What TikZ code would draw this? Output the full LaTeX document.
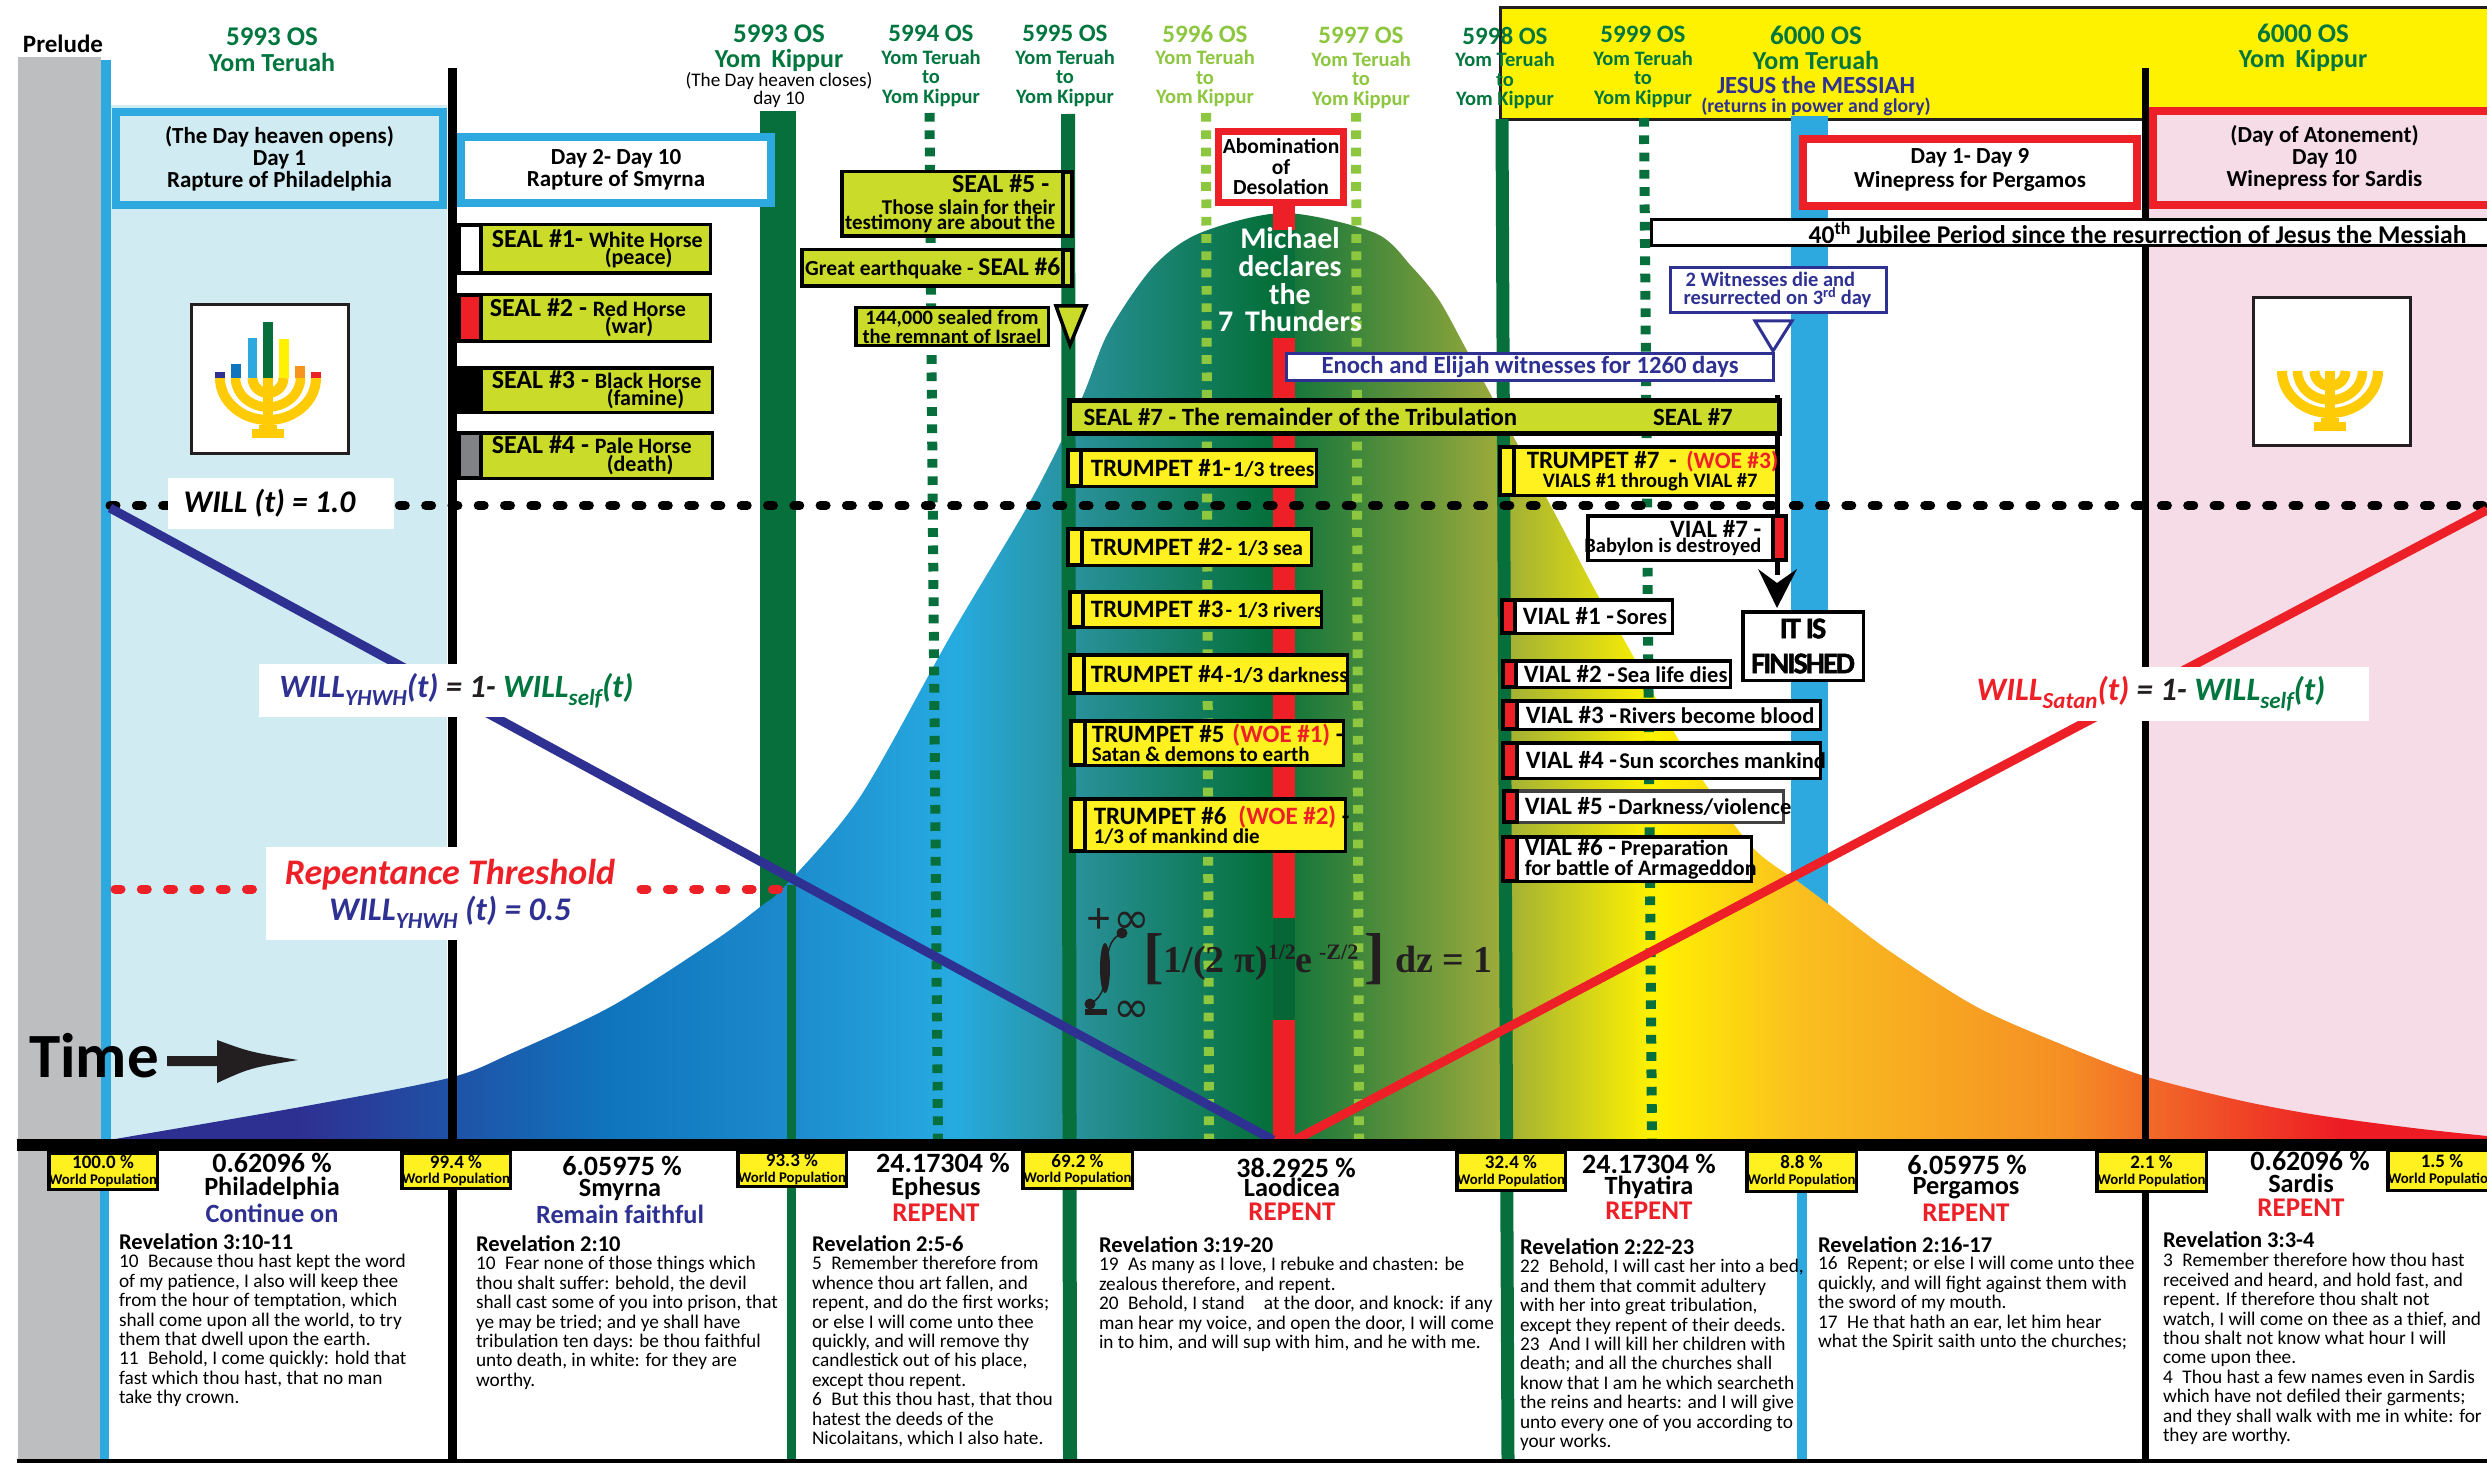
\documentclass[tikz,border=0pt]{standalone}
\usepackage{fontspec}
\setmainfont{Carlito}
\newfontfamily\eqf{Liberation Serif}
\newfontfamily\inff{DejaVu Sans}
\newfontfamily\finf[FakeBold=1.6,LetterSpace=-6]{Carlito Bold}
\usetikzlibrary{arrows.meta}
\definecolor{dgreen}{HTML}{066F3B}
\definecolor{hgreen}{HTML}{00763F}
\definecolor{lgreen}{HTML}{8DC63F}
\definecolor{cblue}{HTML}{2EA9E0}
\definecolor{navy}{HTML}{2E3192}
\definecolor{cred}{HTML}{ED2028}
\definecolor{hyellow}{HTML}{FFF200}
\definecolor{tyellow}{HTML}{FFF01F}
\definecolor{sealg}{HTML}{CBDB2A}
\definecolor{lblue}{HTML}{D1EBF3}
\definecolor{pinkf}{HTML}{F5DCE7}
\definecolor{greyf}{HTML}{BCBEC0}
\definecolor{ink}{HTML}{231F20}
\definecolor{menog}{HTML}{FFCB05}
\definecolor{mblue}{HTML}{0F75BC}
\definecolor{morange}{HTML}{F7941E}
\definecolor{pale}{HTML}{808285}
\pgfdeclarehorizontalshading{bellshade}{100bp}{
 rgb(0bp)=(.18,.19,.57);
 rgb(25bp)=(.18,.19,.57);
 rgb(28.9bp)=(.18,.19,.57);
 rgb(35.5bp)=(.06,.46,.74);
 rgb(39.1bp)=(.11,.54,.80);
 rgb(42.7bp)=(.15,.67,.88);
 rgb(45.2bp)=(.16,.57,.61);
 rgb(49.3bp)=(.02,.44,.23);
 rgb(54bp)=(.59,.66,.23);
 rgb(57.4bp)=(1,.95,0);
 rgb(60.5bp)=(.98,.75,.12);
 rgb(66.1bp)=(.96,.56,.14);
 rgb(67.8bp)=(.95,.42,.16);
 rgb(71.9bp)=(.93,.11,.14);
 rgb(100bp)=(.93,.11,.14)}
\newcommand\fz[1]{\fontsize{#1}{#1}\selectfont}
\newcommand\fzb[2]{\fontsize{#1}{#2}\selectfont}
\tikzset{
 boxbase/.style={draw,inner ysep=0pt,outer sep=0pt,font=\bfseries},
 sealbox/.style={boxbase,fill=sealg},
 trumpbox/.style={boxbase,fill=tyellow},
 vialbox/.style={boxbase,fill=white},
 popbox/.style={boxbase,fill=tyellow,align=center,inner xsep=0pt,font=\bfseries\fzb{14.8}{15.5}},
 padl/.style={inner xsep=0pt,text width=\bw pt,align=flush left,execute at begin node={\leftskip=#1pt\relax\rightskip=-100pt plus 1fil\relax}},
 padr/.style={inner xsep=0pt,text width=\bw pt,align=flush right,execute at begin node={\leftskip=-100pt plus 1fil\relax\rightskip=#1pt\relax}},
 txt/.style={inner sep=0pt,outer sep=0pt,align=center},
 vdot/.style={line width=10pt,dash pattern=on 8.7pt off 8.6pt},
 ddot/.style={black,line width=9pt,line cap=round,dash pattern=on 6pt off 20.3pt},
 verse/.style={inner sep=0pt,outer sep=0pt,align=left,anchor=north west,font=\fzb{19.3}{19.4}},
 vhead/.style={inner sep=0pt,outer sep=0pt,anchor=west,font=\bfseries\fz{22.5}},
 church/.style={inner sep=0pt,outer sep=0pt,font=\bfseries\fz{26.3}},
 churchp/.style={inner sep=0pt,outer sep=0pt,font=\bfseries\fz{28}},
 repent/.style={inner sep=0pt,outer sep=0pt,font=\bfseries\fz{27},text=cred},
 wlab/.style={inner sep=0pt,outer sep=0pt,font=\bfseries\itshape},
 dayfont/.style={font=\bfseries\fzb{23}{22}},
}
% box given by outer edges: [line width]{style}{x0}{y0}{x1}{y1}{text}
\newcommand\bx[7][3.5]{%
 \pgfmathsetmacro\bw{#5-#3-#1}\pgfmathsetmacro\bh{#6-#4-#1}%
 \pgfmathsetmacro\bxx{#3+#1/2}\pgfmathsetmacro\byy{#4+#1/2}%
 \node[#2,line width=#1pt,minimum width=\bw pt,minimum height=\bh pt,anchor=north west] (#3n#4) at (\bxx,\byy) {#7};}
\newcommand\stripe[5]{\draw[line width=3.5pt,fill=#5] (#1,#2) rectangle (#3,#4);}
\newcommand\yearhead[5]{\node[txt,text=#2,font=\bfseries\fzb{20.5}{19.6}] (#1) at (#3,#4) {{\fz{25}#5}\\[3pt]Yom Teruah\\to\\Yom Kippur};}
\newcommand\menobody{%
 \draw[menog,line width=10pt] (-48,0) arc[start angle=180,end angle=0,x radius=48,y radius=42];
 \draw[menog,line width=9.5pt] (-32.5,0) arc[start angle=180,end angle=0,x radius=32.5,y radius=29];
 \draw[menog,line width=10pt] (-15.5,0) arc[start angle=180,end angle=0,x radius=15.5,y radius=15];
 \fill[menog] (-5,0) rectangle (5,51);
 \fill[menog] (-9,47) rectangle (9,51);
 \fill[menog] (-16,51) rectangle (16,60);}
\newcommand\popl[1]{{\fz{19}#1}\\World Population}
\newcommand\upt[1]{\raisebox{3pt}[18pt][5pt]{#1}}
\begin{document}
\begin{tikzpicture}[x=1pt,y=-1pt]
\useasboundingbox (0,0) rectangle (2487,1463);
\fill[white] (0,0) rectangle (2487,1463);
% regions
\fill[greyf] (18,57) rectangle (101,1463);
\fill[cblue] (101,60) rectangle (111,1140);
\fill[lblue] (111,105) rectangle (447,1140);
\fill[pinkf] (2148,108) rectangle (2487,1140);
\draw[line width=3pt,draw=ink,fill=hyellow] (1500,8) rectangle (2500,120);
% columns below the bell
\fill[cblue] (1791,116) rectangle (1828,1000);
\fill[dgreen] (760,111) rectangle (796,1140);
% bell curve
\shade[shading=bellshade] (115,1140) -- plot[smooth] coordinates {(115,1139) (306,1106) (449,1078) (510,1054) (612,1006) (714,941) (760,907) (786,885) (860,797) (951,635) (1031,500) (1081,400) (1108,333) (1153,267) (1200,233) (1284,213) (1375,233) (1412,267) (1439,300) (1465,347) (1492,397) (1553,510) (1596,592) (1627,645) (1678,739) (1708,788) (1754,849) (1800,883) (1828,904) (1888,950) (1975,1006) (2063,1045) (2144,1076) (2238,1100) (2317,1115) (2413,1128) (2487,1136)} -- (2487,1140) -- cycle;
% columns over the bell
\fill[dgreen] (787,885) rectangle (796,1459);
\draw[dgreen,vdot] (929.5,113) -- (938,1140);
\draw[lgreen,vdot] (1206,113) -- (1209,1140);
\draw[lgreen,vdot] (1356,113) -- (1359,1140);
\draw[dgreen,vdot] (1644,118) -- (1652,1140);
\draw[dgreen,line width=14pt] (1068,114) -- (1070,1459);
\draw[dgreen,line width=13pt] (1502,119) -- (1508,1459);
\fill[cred] (1273,205) rectangle (1295,1140);
\fill[dgreen] (1273,230) rectangle (1295,338);
\fill[dgreen!92!black] (1273,918) rectangle (1295,1020);
\fill[black] (448,68) rectangle (457,1459);
\fill[black] (2142,68) rectangle (2149,1459);
\fill[cblue] (1797,1151) rectangle (1807,1459);
\fill[cblue] (100,1151) rectangle (109,1459);
% horizontal dotted lines
\coordinate (willA) at (110,505.5);
\coordinate (willB) at (2487,505.5);
\draw[ddot] (willA) -- (willB);
\coordinate (thA) at (115,889);
\coordinate (thB) at (262,889);
\coordinate (thC) at (641,889);
\coordinate (thD) at (786,889);
\draw[ddot,cred] (thA) -- (thB);
\draw[ddot,cred] (thC) -- (thD);
% will lines
\coordinate (navyA) at (110,508);
\coordinate (vtx) at (1273,1140);
\coordinate (redA) at (1295,1140);
\coordinate (redB) at (2487,510);
\draw[navy,line width=9pt] (navyA) -- (vtx);
\draw[cred,line width=9pt] (redA) -- (redB);
% axis
\fill[black] (17,1139) rectangle (2487,1151);
\fill[black] (17,1459) rectangle (2487,1463);
% white label boxes
\node[fill=white,minimum width=226pt,minimum height=51pt,inner sep=0pt,anchor=north west,wlab,font=\bfseries\itshape\fz{31.5}] (will1) at (168,478) {WILL (t) = 1.0\hspace{23pt}\mbox{}};
\node[fill=white,minimum width=383pt,minimum height=53pt,inner sep=0pt,anchor=north west,wlab,font=\bfseries\itshape\fz{32.5}] (willy) at (259,664) {\hspace{12pt}\textcolor{navy}{WILL\raisebox{-8pt}{\fz{23}YHWH}(t)} \textcolor{ink}{= 1-} \textcolor{hgreen}{WILL\raisebox{-8pt}{\fz{23}self}(t)}};
\node[fill=white,minimum width=393pt,minimum height=54pt,inner sep=0pt,anchor=north west,wlab,font=\bfseries\itshape\fz{32.7}] (wills) at (1976,667) {\textcolor{cred}{WILL\raisebox{-8pt}{\fz{23}Satan}(t)} \textcolor{ink}{= 1-} \textcolor{hgreen}{WILL\raisebox{-8pt}{\fz{23}self}(t)}\hspace{43pt}\mbox{}};
\node[fill=white,minimum width=368pt,minimum height=93pt,inner sep=0pt,anchor=north west,wlab,align=center,font=\bfseries\itshape\fzb{33}{36}] (rep) at (266,847) {{\fz{36}\textcolor{cred}{Repentance Threshold}}\\\textcolor{navy}{WILL\raisebox{-8pt}{\fz{23}YHWH} (t) = 0.5}};
% time
\node[txt,font=\bfseries\fz{63}] (time) at (94,1056) {Time};
\fill[ink] (167,1056) -- (217,1056) -- (217,1040) .. controls (250,1052) .. (298,1060) .. controls (250,1068) .. (217,1083) -- (217,1066) -- (167,1066) -- cycle;
% top headers
\node[txt,font=\bfseries\fz{25}] (prelude) at (63,44) {Prelude};
\node[txt,text=hgreen,font=\bfseries\fzb{26}{26}] (h1) at (272,50) {{\fz{27}5993 OS}\\Yom Teruah};
\node[txt,text=hgreen,font=\bfseries\fzb{26}{25}] (h2) at (779,48) {{\fz{27}5993 OS}\\Yom\, Kippur};
\node[txt,font=\fzb{19.2}{16}] (h2b) at (779,90) {(The Day heaven closes)\\day 10};
\yearhead{y4}{hgreen}{931}{66}{5994 OS}
\yearhead{y5}{hgreen}{1065}{66}{5995 OS}
\yearhead{y6}{lgreen}{1205}{66}{5996 OS}
\yearhead{y7}{lgreen}{1361}{68}{5997 OS}
\yearhead{y8}{hgreen}{1505}{68}{5998 OS}
\yearhead{y9}{hgreen}{1643}{67}{5999 OS}
\node[txt,text=hgreen,font=\bfseries\fzb{26}{25}] (h60a) at (1816,48) {{\fz{27}6000 OS}\\Yom Teruah};
\node[txt,text=navy,font=\bfseries] (jm) at (1816,85) {\fz{24.6}JESUS the MESSIAH};
\node[txt,text=navy,font=\bfseries] (jm2) at (1816,107) {\fz{19.7}(returns in power and glory)};
\node[txt,text=hgreen,font=\bfseries\fzb{26}{25}] (h60b) at (2303,48) {{\fz{27}6000 OS}\\Yom\, Kippur};
% day boxes
\bx[8]{boxbase,draw=cblue,fill=lblue,align=center,dayfont}{112}{108}{447}{209}{(The Day heaven opens)\\Day 1\\Rapture of Philadelphia}
\bx[8]{boxbase,draw=cblue,fill=white,align=center,dayfont}{457}{133}{775}{207}{Day 2- Day 10\\Rapture of Smyrna}
\bx[8]{boxbase,draw=cred,fill=white,align=center,dayfont}{1799}{135}{2141}{210}{\upt{Day 1- Day 9}\\\upt{Winepress for Pergamos}}
\bx[8]{boxbase,draw=cred,fill=pinkf,align=center,dayfont}{2149}{107}{2500}{209}{(Day of Atonement)\\Day 10\\Winepress for Sardis}
\bx[3]{boxbase,fill=white,padr=42}{1650}{218}{2510}{247}{\fz{25.6}40\textsuperscript{th} Jubilee Period since the resurrection of Jesus the Messiah}
% menorahs
\node[draw=ink,line width=3pt,fill=white,minimum width=157pt,minimum height=148pt,anchor=north west,inner sep=0pt] (meno1) at (189.5,303.5) {};
\begin{scope}[shift={(268,378)}]
\menobody
\end{scope}
\fill[navy] (215,372) rectangle (225,378);
\fill[mblue] (231,364) rectangle (241,378);
\fill[cblue] (248,338) rectangle (257,378);
\fill[dgreen] (263,322) rectangle (273,378);
\fill[hyellow] (279,339) rectangle (289,378);
\fill[morange] (295,366) rectangle (305,378);
\fill[cred] (311,372) rectangle (321,378);
\node[draw=ink,line width=3pt,fill=white,minimum width=157pt,minimum height=147pt,anchor=north west,inner sep=0pt] (meno2) at (2251.5,296.5) {};
\begin{scope}[shift={(2330,371)}]
\menobody
\end{scope}
% seals
\bx{sealbox,padl=31}{459}{223}{712}{275}{\fzb{26}{23}SEAL \#1- {\fz{22}White Horse}\\\hspace*{113pt}{\fz{22}(peace)}}
\bx{sealbox,padl=29}{459}{293}{712}{343}{\fzb{26}{23}SEAL \#2 - {\fz{22}Red Horse}\\\hspace*{115pt}{\fz{22}(war)}}
\bx{sealbox,padl=31}{459}{366}{714}{414}{\fzb{26}{23}SEAL \#3 - {\fz{22}Black Horse}\\\hspace*{115pt}{\fz{22}(famine)}}
\bx{sealbox,padl=31}{459}{431}{714}{480}{\fzb{26}{23}SEAL \#4 - {\fz{22}Pale Horse}\\\hspace*{115pt}{\fz{22}(death)}}
\stripe{459}{225}{481}{273}{white}
\stripe{459}{295}{481}{341}{cred}
\stripe{459}{368}{481}{412}{black}
\stripe{459}{433}{481}{478}{pale}
\bx{sealbox,padr=15}{840}{170}{1072}{238}{\fzb{21}{21.5}{\fz{26}SEAL \#5 -\hspace{6pt}\mbox{}}\\Those slain for their\\testimony are about the}
\stripe{1063}{172}{1072}{236}{sealg}
\bx{sealbox,padr=11}{800}{248}{1073}{288}{{\fz{21.5}Great earthquake - }{\fz{25.5}SEAL \#6}}
\stripe{1063}{250}{1072}{286}{sealg}
\bx{sealbox,align=center,inner xsep=0pt,font=\bfseries\fzb{20.5}{19}}{854}{306}{1050}{347}{144,000 sealed from\\the remnant of Israel}
\draw[line width=3.5pt,fill=sealg] (1056,306) -- (1086,306) -- (1070,345) -- cycle;
% abomination, michael
\bx[7]{boxbase,draw=cred,fill=white,align=center,inner xsep=0pt,font=\bfseries\fzb{21.5}{20.5}}{1215}{128}{1347}{206}{Abomination\\of\\Desolation}
\node[txt,text=white,font=\bfseries\fzb{30}{27.7}] (mich) at (1290,280) {Michael\\declares\\the\\7\, Thunders};
% witnesses
\bx[3]{boxbase,draw=navy,fill=white,text=navy,padl=13}{1669}{266}{1888}{314}{\fzb{20.5}{20}\hspace*{2pt}2 Witnesses die and\\resurrected on 3\textsuperscript{rd} day}
\draw[line width=3pt,draw=navy,fill=white] (1755,321) -- (1792,321) -- (1773,351) -- cycle;
\bx[3]{boxbase,draw=navy,fill=white,align=center,text=navy}{1285}{352}{1775}{382}{\fz{24.7}Enoch and Elijah witnesses for 1260 days}
% seal 7
\coordinate (s7r) at (1777,395);
\coordinate (finT) at (1777,608);
\draw[line width=5pt] (s7r) -- (1777,575);
\fill[black] (1758,569) -- (1777,583) -- (1797,569) -- (finT) -- cycle;
\bx[5]{sealbox,padl=14}{1067}{398}{1782}{436}{\fz{24.8}SEAL \#7 - The remainder of the Tribulation\hspace{136pt}SEAL \#7}
% trumpets
\bx{trumpbox,padl=21}{1068}{448}{1318}{488}{{\fz{25}TRUMPET \#1-} {\fz{21.5}1/3 trees}}
\stripe{1068}{450}{1081}{486}{tyellow}
\bx{trumpbox,padl=21}{1068}{527}{1313}{567}{{\fz{25}TRUMPET \#2} {\fz{21.5}- 1/3 sea}}
\stripe{1068}{529}{1082}{565}{tyellow}
\bx{trumpbox,padl=19}{1070}{590}{1323}{629}{{\fz{25}TRUMPET \#3} {\fz{21.5}- 1/3 rivers}}
\stripe{1070}{592}{1083}{627}{tyellow}
\bx{trumpbox,padl=19}{1070}{653}{1349}{695}{{\fz{25}TRUMPET \#4} {\fz{21.5}-1/3 darkness}}
\stripe{1070}{655}{1084}{693}{tyellow}
\bx{trumpbox,padl=19}{1071}{719}{1345}{767}{\fzb{21}{22}{\fz{25}TRUMPET \#5\hspace{8pt}\textcolor{cred}{(WOE \#1)} -}\\Satan \& demons to earth}
\stripe{1071}{721}{1085}{765}{tyellow}
\bx{trumpbox,padl=21}{1071}{797}{1347}{853}{\fzb{21}{22}{\fz{25}TRUMPET \#6\hspace{12pt}\textcolor{cred}{(WOE \#2)} -}\\1/3 of mankind die}
\stripe{1071}{799}{1085}{851}{tyellow}
\bx{trumpbox,padl=25}{1500}{445}{1778}{497}{\fzb{20.5}{23}{\fz{25}TRUMPET \#7\hspace{4pt} - \hspace{4pt}{\fz{23.5}\textcolor{cred}{(WOE \#3)}}}\\\hspace*{16pt}VIALS \#1 through VIAL \#7}
\stripe{1500}{447}{1514}{495}{tyellow}
% vials
\bx{vialbox,padr=23}{1586}{514}{1786}{562}{\fzb{20.5}{22}{\fz{25}VIAL \#7 -}\\Babylon is destroyed}
\stripe{1773}{516}{1786}{560}{cred}
\bx[3.5]{boxbase,fill=white,align=center,inner xsep=0pt,font=\finf\fzb{30}{35}}{1741}{610}{1865}{682}{IT IS\\FINISHED}
\bx{vialbox,padl=19}{1502}{598}{1674}{635}{{\fz{25}VIAL \#1 -} {\fz{22.5}Sores}}
\stripe{1502}{600}{1515}{633}{cred}
\bx{vialbox,padl=19}{1503}{659}{1732}{689}{{\fz{25}VIAL \#2 -} {\fz{22.5}Sea life dies}}
\stripe{1503}{661}{1516}{687}{cred}
\bx{vialbox,padl=21}{1503}{699}{1822}{731}{{\fz{25}VIAL \#3 -} {\fz{22.5}Rivers become blood}}
\stripe{1503}{701}{1517}{729}{cred}
\bx{vialbox,padl=21}{1503}{741}{1822}{780}{{\fz{25}VIAL \#4 -} {\fz{22.5}Sun scorches mankind}}
\stripe{1503}{743}{1517}{778}{cred}
\bx{vialbox,draw=ink!85,padl=19}{1504}{789}{1785}{824}{{\fz{25}VIAL \#5 -} {\fz{22.5}Darkness/violence}}
\stripe{1504}{791}{1517}{822}{cred}
\bx{vialbox,padl=20}{1503}{835}{1753}{883}{\fzb{22}{21}{\fz{25}VIAL \#6 -} Preparation\\for battle of Armageddon}
\stripe{1503}{837}{1517}{881}{cred}
% equation
\node[txt,anchor=west,text=ink] (pinf) at (1086,921) {{\eqf\bfseries\fz{44}+}\hspace{2pt}{\inff\fz{44}∞}};
\node[txt,anchor=west,text=ink] (minf) at (1085,1012) {\rule[8pt]{22pt}{6pt}\hspace{6pt}{\inff\fz{44}∞}};
\fill[ink] (1122,933) circle (5.5);
\fill[ink] (1090,1004) circle (5.5);
\draw[ink,line width=1.5pt] (1122,933) .. controls (1095,945) and (1118,990) .. (1090,1004);
\fill[ink] (1105,968) ellipse (5 and 25);
\node[txt,anchor=west,font=\eqf\bfseries\fz{38},text=ink] (eq) at (1140,959) {\hspace{3pt}{\fz{62}\raisebox{-4pt}{[}}1/(2 π)\raisebox{13pt}{\fz{22}1/2}e\,\raisebox{13pt}{\fz{22}-Z/2}\,{\fz{62}\raisebox{-4pt}{]}}\hspace{10pt}dz = 1};
% population boxes
\bx{popbox}{47}{1151}{159}{1191}{\popl{100.0 \%}}
\bx{popbox}{400}{1151}{512}{1190}{\popl{99.4 \%}}
\bx{popbox}{736}{1150}{848}{1188}{\popl{93.3 \%}}
\bx{popbox}{1021}{1149}{1134}{1190}{\popl{69.2 \%}}
\bx{popbox}{1455}{1150}{1567}{1192}{\popl{32.4 \%}}
\bx{popbox}{1745}{1149}{1858}{1193}{\popl{8.8 \%}}
\bx{popbox}{2095}{1149}{2208}{1193}{\popl{2.1 \%}}
\bx{popbox}{2386}{1148}{2498}{1192}{\popl{1.5 \%}}
% church headers
\node[churchp] (c1a) at (272,1163) {0.62096 \%};
\node[church] (c1b) at (272,1188) {Philadelphia};
\node[church,text=navy] (c1c) at (272,1213) {Continue on};
\node[churchp] (c2a) at (622,1166) {6.05975 \%};
\node[church] (c2b) at (620,1190) {Smyrna};
\node[church,text=navy] (c2c) at (620,1214) {Remain faithful};
\node[churchp] (c3a) at (943,1163) {24.17304 \%};
\node[church] (c3b) at (936,1188) {Ephesus};
\node[repent] (c3c) at (936,1213) {REPENT};
\node[churchp] (c4a) at (1296,1168) {38.2925 \%};
\node[church] (c4b) at (1292,1187) {Laodicea};
\node[repent] (c4c) at (1292,1212) {REPENT};
\node[churchp] (c5a) at (1649,1164) {24.17304 \%};
\node[church] (c5b) at (1649,1187) {Thyatira};
\node[repent] (c5c) at (1649,1211) {REPENT};
\node[churchp] (c6a) at (1967,1165) {6.05975 \%};
\node[church] (c6b) at (1966,1188) {Pergamos};
\node[repent] (c6c) at (1966,1213) {REPENT};
\node[churchp] (c7a) at (2310,1161) {0.62096 \%};
\node[church] (c7b) at (2301,1183) {Sardis};
\node[repent] (c7c) at (2301,1208) {REPENT};
% verses
\node[vhead] (r1) at (119,1242) {Revelation 3:10-11};
\node[verse] (v1) at (119,1254.5) {10\enspace Because thou hast kept the word\\of my patience, I also will keep thee\\from the hour of temptation, which\\shall come upon all the world, to try\\them that dwell upon the earth.\\11\enspace Behold, I come quickly: hold that\\fast which thou hast, that no man\\take thy crown.};
\node[vhead] (r2) at (476,1244) {Revelation 2:10};
\node[verse] (v2) at (476,1256.5) {10\enspace Fear none of those things which\\thou shalt suffer: behold, the devil\\shall cast some of you into prison, that\\ye may be tried; and ye shall have\\tribulation ten days: be thou faithful\\unto death, in white: for they are\\worthy.};
\node[vhead] (r3) at (812,1244) {Revelation 2:5-6};
\node[verse] (v3) at (812,1256.5) {5\enspace Remember therefore from\\whence thou art fallen, and\\repent, and do the first works;\\or else I will come unto thee\\quickly, and will remove thy\\candlestick out of his place,\\except thou repent.\\6\enspace But this thou hast, that thou\\hatest the deeds of the\\Nicolaitans, which I also hate.};
\node[vhead] (r4) at (1099,1245) {Revelation 3:19-20};
\node[verse] (v4) at (1099,1257.5) {19\enspace As many as I love, I rebuke and chasten: be\\zealous therefore, and repent.\\20\enspace Behold, I stand\quad at the door, and knock: if any\\man hear my voice, and open the door, I will come\\in to him, and will sup with him, and he with me.};
\node[vhead] (r5) at (1520,1247) {Revelation 2:22-23};
\node[verse] (v5) at (1520,1259.5) {22\enspace Behold, I will cast her into a bed,\\and them that commit adultery\\with her into great tribulation,\\except they repent of their deeds.\\23\enspace And I will kill her children with\\death; and all the churches shall\\know that I am he which searcheth\\the reins and hearts: and I will give\\unto every one of you according to\\your works.};
\node[vhead] (r6) at (1818,1245) {Revelation 2:16-17};
\node[verse] (v6) at (1818,1256.5) {16\enspace Repent; or else I will come unto thee\\quickly, and will fight against them with\\the sword of my mouth.\\17\enspace He that hath an ear, let him hear\\what the Spirit saith unto the churches;};
\node[vhead] (r7) at (2163,1240) {Revelation 3:3-4};
\node[verse] (v7) at (2163,1253.5) {3\enspace Remember therefore how thou hast\\received and heard, and hold fast, and\\repent. If therefore thou shalt not\\watch, I will come on thee as a thief, and\\thou shalt not know what hour I will\\come upon thee.\\4\enspace Thou hast a few names even in Sardis\\which have not defiled their garments;\\and they shall walk with me in white: for\\they are worthy.};
\end{tikzpicture}
\end{document}
